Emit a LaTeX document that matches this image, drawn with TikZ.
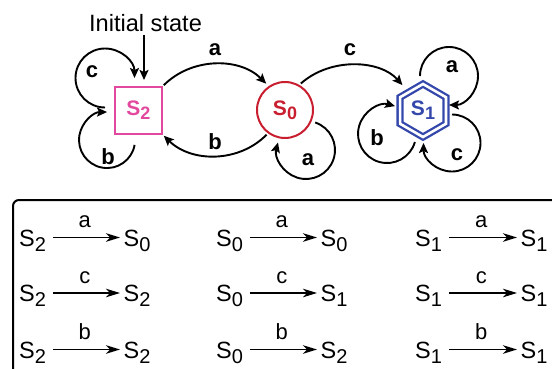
\documentclass[tikz,border=0pt]{standalone}
\usepackage{fontspec}
\setmainfont{Liberation Sans}
\usetikzlibrary{arrows.meta,shapes.geometric}
\definecolor{spink}{RGB}{226,72,158}
\definecolor{sred}{RGB}{200,30,48}
\definecolor{sblue}{RGB}{52,72,172}
\newcommand{\StTop}[1]{S\raisebox{-4pt}{\fontsize{18}{18}\selectfont #1}}
\newcommand{\StTab}[1]{S\raisebox{-5pt}{\fontsize{20}{20}\selectfont #1}}
\begin{document}
\begin{tikzpicture}[x=1pt,y=1pt,
  conn/.style={line width=1.9pt,-{Stealth[length=10pt,width=9pt,inset=2pt]}},
  tarr/.style={line width=1.6pt,-{Stealth[length=14pt,width=8.5pt,inset=4pt]},shorten <=7pt,shorten >=3.5pt},
  lbl/.style={font=\fontsize{22}{22}\selectfont\bfseries,inner sep=0pt},
  tlbl/.style={font=\fontsize{22}{22}\selectfont,inner sep=0pt,anchor=base,yshift=10pt},
  st/.style={font=\fontsize{23.5}{23.5}\selectfont,inner sep=0pt,text height=17pt,text depth=0pt,anchor=west},
  stlab/.style={font=\fontsize{21}{21}\selectfont\bfseries,inner sep=0pt,outer sep=0pt},
]
\useasboundingbox (0,0) rectangle (552,368);
% states
\node[stlab, rectangle, draw=spink, text=spink, line width=2pt, minimum size=47pt] (S2) at (138.5,257.5) {\StTop{2}};
\node[stlab, circle, draw=sred, text=sred, line width=2pt, minimum size=56pt] (S0) at (285,258) {\StTop{0}};
\node[stlab, regular polygon, regular polygon sides=6, shape border rotate=30, minimum size=53pt,
      draw=sblue, text=sblue, line width=2.3pt, double=white, double distance=2.6pt] (S1) at (423,257.5) {\StTop{1}};
% initial state
\node[font=\fontsize{23.6}{23.6}\selectfont, inner sep=0pt, anchor=base] (istate) at (145.5,337) {Initial state};
\draw[conn, shorten <=4pt] ([xshift=-1.5pt]istate.south) -- ([xshift=5.5pt,yshift=7pt]S2.north);
% transitions between states
\draw[conn, shorten <=2.5pt, shorten >=4.4pt] (S2.north east) to[bend left=45] (S0.124);
\draw[conn, shorten <=2.8pt, shorten >=2.5pt] (S0.234) to[bend left=45] (S2.south east);
\draw[conn, shorten <=3pt, shorten >=9.5pt] (S0.61) to[bend left=45] (S1.128);
% self loops
\draw[conn] ([shift={(-33.5,3)}]S2.center) arc[start angle=270, end angle=0, radius=29.5];
\draw[conn] ([shift={(-3.9,-34.4)}]S2.center) arc[start angle=-10, end angle=-270, radius=28];
\draw[conn] ([shift={(30.2,-12.5)}]S0.center) arc[start angle=71.5, end angle=-195, radius=29];
\draw[conn] ([shift={(-3,34.5)}]S1.center) arc[start angle=180, end angle=-90, radius=29];
\draw[conn] ([shift={(-8.1,-31.5)}]S1.center) arc[start angle=-16, end angle=-286, radius=29];
\draw[conn] ([shift={(29,-4)}]S1.center) arc[start angle=90, end angle=-180, radius=28.5];
% labels
\node[lbl] (la) at (215,318) {a};
\node[lbl] (lb) at (215,226) {b};
\node[lbl] (lc) at (350,318) {c};
\node[lbl] (l2c) at (92,296) {c};
\node[lbl] (l2b) at (108,211) {b};
\node[lbl] (l0a) at (308,208) {a};
\node[lbl] (l1a) at (452,301) {a};
\node[lbl] (l1b) at (377,230) {b};
\node[lbl] (l1c) at (457,213) {c};
% table
\draw[line width=2pt, rounded corners=6pt] (13,-20) rectangle (557,168);
\foreach \i/\Y/\L/\ta/\tb in {1/130.5/a/0/0, 2/75/c/2/1, 3/18.5/b/2/2} {
  \node[st] (A\i) at (19,\Y) {\StTab{2}};
  \node[st] (B\i) at (123.5,\Y) {\StTab{\ta}};
  \draw[tarr] (A\i.east) -- node[tlbl] {\L} (B\i.west);
  \node[st] (C\i) at (216,\Y) {\StTab{0}};
  \node[st] (D\i) at (320.5,\Y) {\StTab{\tb}};
  \draw[tarr] (C\i.east) -- node[tlbl] {\L} (D\i.west);
  \node[st] (E\i) at (415,\Y) {\StTab{1}};
  \node[st] (F\i) at (520.5,\Y) {\StTab{1}};
  \draw[tarr] (E\i.east) -- node[tlbl] {\L} (F\i.west);
}
\end{tikzpicture}
\end{document}
